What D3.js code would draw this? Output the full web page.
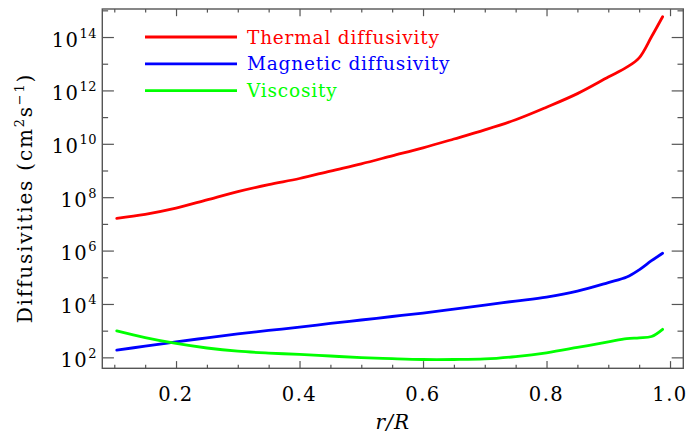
<!DOCTYPE html>
<html>
<head>
<meta charset="utf-8">
<script src="https://cdn.jsdelivr.net/npm/d3@7"></script>
<style>
  body { margin: 0; background: #fff; }
  svg { display: block; }
  text { font-family: "DejaVu Serif", serif; fill: #000; }
</style>
</head>
<body>
<svg id="viz" width="688" height="436"></svg>
<script>
/* Data */

const radius = [0.104, 0.15, 0.2, 0.25, 0.3, 0.35, 0.4, 0.45, 0.5, 0.55, 0.6, 0.65, 0.7, 0.75, 0.8, 0.85, 0.9, 0.93, 0.95, 0.97, 0.988];

// log10 of the diffusivities, cm^2 s^-1
const thermalLog = [7.21, 7.36, 7.59, 7.90, 8.21, 8.47, 8.70, 8.98, 9.25, 9.55, 9.85, 10.18, 10.52, 10.90, 11.37, 11.88, 12.50, 12.87, 13.22, 14.01, 14.76];
const magneticLog = [2.27, 2.42, 2.58, 2.73, 2.88, 3.01, 3.13, 3.27, 3.40, 3.53, 3.66, 3.81, 3.96, 4.11, 4.26, 4.48, 4.80, 5.01, 5.28, 5.62, 5.90];
const viscosityLog = [2.99, 2.74, 2.52, 2.35, 2.23, 2.16, 2.11, 2.05, 1.99, 1.95, 1.92, 1.92, 1.94, 2.03, 2.17, 2.37, 2.58, 2.70, 2.73, 2.78, 3.05];

const seriesNames = ['Thermal diffusivity', 'Magnetic diffusivity', 'Viscosity'];
const seriesColors = ['#ff0000', '#0000ff', '#00ff00'];

const xMajor = [0.2, 0.4, 0.6, 0.8, 1.0];
const xMinor = [0.1, 0.15, 0.25, 0.3, 0.35, 0.45, 0.5, 0.55, 0.65, 0.7, 0.75, 0.85, 0.9, 0.95];
const yMajorExp = [2, 4, 6, 8, 10, 12, 14];
const yMinorExp = [3, 5, 7, 9, 11, 13, 15];

/* Visualization */

const plotLeft = 102.3, plotRight = 683.3, plotTop = 9, plotBottom = 368.3;

const svg = d3.select('#viz');

const xScale = d3.scaleLinear().domain([0.0806, 1.0215]).range([plotLeft, plotRight]);
const yScale = d3.scaleLog().domain([Math.pow(10, 1.59), Math.pow(10, 15.05)]).range([plotBottom, plotTop]);

const frameColor = '#555';

// curves
const series = [thermalLog, magneticLog, viscosityLog];

const line = d3
  .line()
  .x((d, i) => xScale(radius[i]))
  .y((d) => yScale(Math.pow(10, d)))
  .curve(d3.curveCatmullRom.alpha(0.5));

svg
  .append('g')
  .selectAll('path')
  .data(series)
  .join('path')
  .attr('fill', 'none')
  .attr('stroke', (_, i) => seriesColors[i])
  .attr('stroke-width', 2.8)
  .attr('stroke-linecap', 'round')
  .attr('d', (d) => line(d));

// ticks, drawn inward on all four sides
const xLen = (plotBottom - plotTop) * 0.02;
const yLen = (plotRight - plotLeft) * 0.02;

function ticks(g, axis) {
  g.call(axis);
  g.select('.domain').remove();
  g.selectAll('line').attr('stroke', frameColor).attr('stroke-width', 1.2);
  g.selectAll('text').remove();
}

const yTicks = yMajorExp.map((e) => Math.pow(10, e));
const yMinorTicks = yMinorExp.map((e) => Math.pow(10, e));

[[xMajor, xLen], [xMinor, xLen / 2]].forEach(([vals, len]) => {
  svg.append('g').attr('transform', `translate(0,${plotBottom})`)
    .call((g) => ticks(g, d3.axisBottom(xScale).tickValues(vals).tickSize(-len)));
  svg.append('g').attr('transform', `translate(0,${plotTop})`)
    .call((g) => ticks(g, d3.axisTop(xScale).tickValues(vals).tickSize(-len)));
});

[[yTicks, yLen], [yMinorTicks, yLen / 2]].forEach(([vals, len]) => {
  svg.append('g').attr('transform', `translate(${plotLeft},0)`)
    .call((g) => ticks(g, d3.axisLeft(yScale).tickValues(vals).tickSize(-len)));
  svg.append('g').attr('transform', `translate(${plotRight},0)`)
    .call((g) => ticks(g, d3.axisRight(yScale).tickValues(vals).tickSize(-len)));
});

// frame
svg
  .append('rect')
  .attr('x', plotLeft)
  .attr('y', plotTop)
  .attr('width', plotRight - plotLeft)
  .attr('height', plotBottom - plotTop)
  .attr('fill', 'none')
  .attr('stroke', frameColor)
  .attr('stroke-width', 1.4);

// x tick labels
svg
  .append('g')
  .selectAll('text')
  .data(xMajor)
  .join('text')
  .attr('x', (d) => xScale(d))
  .attr('y', 400.5)
  .attr('text-anchor', 'middle')
  .attr('font-size', 19.5)
  .attr('letter-spacing', 1.5)
  .text((d) => d.toFixed(1));

// y tick labels with exponents
const yLabels = svg
  .append('g')
  .selectAll('text')
  .data(yMajorExp)
  .join('text')
  .attr('x', 97)
  .attr('y', (d) => yScale(Math.pow(10, d)) + 9.5)
  .attr('text-anchor', 'end')
  .attr('font-size', 19.5)
  .attr('letter-spacing', 1.5);

yLabels.append('tspan').text('10');
yLabels
  .append('tspan')
  .attr('dy', -9)
  .attr('font-size', 13)
  .attr('letter-spacing', 0.5)
  .text((d) => d);

// axis titles
svg
  .append('text')
  .attr('x', (plotLeft + plotRight) / 2)
  .attr('y', 429)
  .attr('text-anchor', 'middle')
  .attr('font-size', 20)
  .attr('font-style', 'italic')
  .attr('letter-spacing', 1)
  .text('r/R');

const yTitle = svg
  .append('text')
  .attr('transform', 'translate(32,198) rotate(-90)')
  .attr('text-anchor', 'middle')
  .attr('font-size', 20)
  .attr('letter-spacing', 1.8);

yTitle.append('tspan').text('Diffusivities (cm');
yTitle.append('tspan').attr('dy', -8).attr('font-size', 13).text('2');
yTitle.append('tspan').attr('dy', 8).text('s');
yTitle.append('tspan').attr('dy', -8).attr('font-size', 13).text('\u22121');
yTitle.append('tspan').attr('dy', 8).text(')');

// legend
const legend = svg
  .append('g')
  .selectAll('g')
  .data(seriesNames)
  .join('g')
  .attr('transform', (_, i) => `translate(145,${37 + i * 26.8})`);

legend
  .append('line')
  .attr('x1', 0)
  .attr('x2', 92)
  .attr('stroke', (_, i) => seriesColors[i])
  .attr('stroke-width', 2.8);

legend
  .append('text')
  .attr('x', 102)
  .attr('y', 6.5)
  .attr('font-size', 18.5)
  .attr('letter-spacing', 0.8)
  .style('fill', (_, i) => seriesColors[i])
  .text((d) => d);
</script>
</body>
</html>
